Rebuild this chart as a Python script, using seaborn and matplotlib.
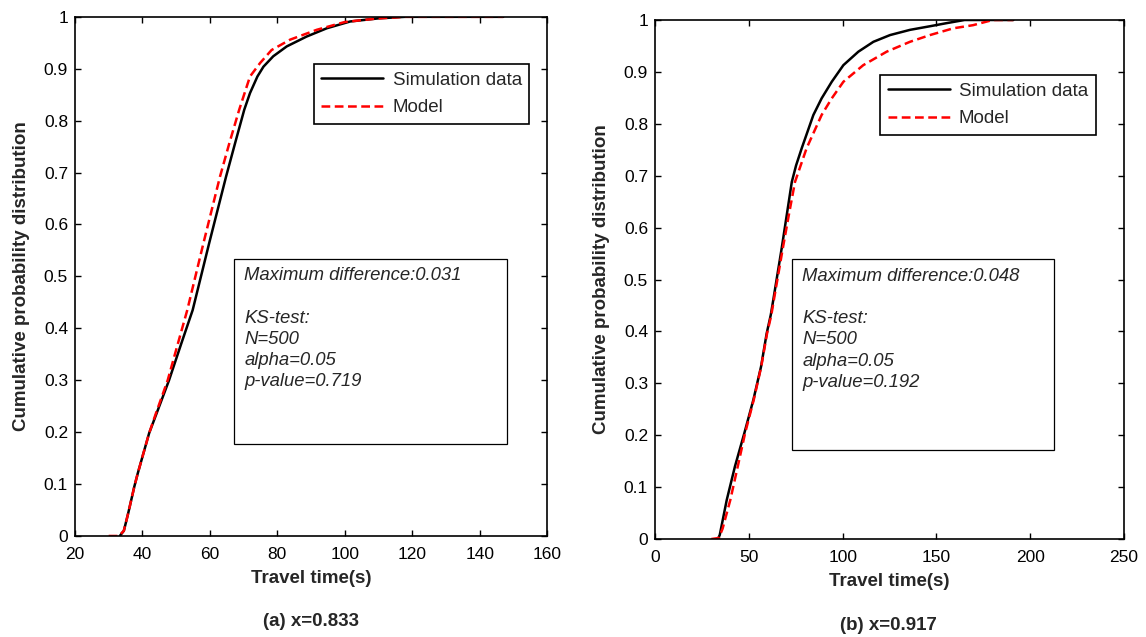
import numpy as np
import pandas as pd
import seaborn as sns
import matplotlib
import matplotlib.pyplot as plt
from matplotlib.patches import Rectangle
matplotlib.use('Agg')

# (a) x=0.833 -- travel time (s) vs cumulative probability
sim_a_t = [33.3, 34.5, 35.8, 37.6, 38.6, 40.6, 42, 44.2, 47.9, 51.5, 54.9, 59.8, 64.8, 67.5, 70.2, 71.9, 74.1, 75.9, 78.8, 82.8, 88.7, 94.7, 101.6, 110, 118, 147]
sim_a_p = [0, 0.01, 0.044, 0.095, 0.12, 0.166, 0.198, 0.236, 0.3, 0.37, 0.435, 0.564, 0.692, 0.757, 0.821, 0.853, 0.885, 0.904, 0.924, 0.943, 0.962, 0.978, 0.991, 0.997, 1.0, 1.0]
mod_a_t = [30, 33, 34.5, 35.8, 37.6, 38.6, 40.6, 42, 44, 47.5, 50.5, 53.3, 58.1, 63, 65.8, 68.7, 71.9, 74.9, 78.3, 83.8, 91.7, 100, 110, 118, 147]
mod_a_p = [0, 0, 0.01, 0.044, 0.095, 0.12, 0.166, 0.198, 0.236, 0.3, 0.37, 0.435, 0.564, 0.692, 0.757, 0.821, 0.885, 0.911, 0.936, 0.956, 0.975, 0.99, 0.997, 1.0, 1.0]

# (b) x=0.917
sim_b_t = [33.5, 34.5, 38.2, 42.6, 47.6, 52.4, 56.5, 59.5, 61.7, 63, 67.5, 70.2, 72.9, 75.2, 78.2, 84.4, 88.8, 94.2, 100.4, 108.4, 116.4, 125.3, 135.9, 146.6, 155.5, 165, 191]
sim_b_p = [0, 0.008, 0.075, 0.14, 0.204, 0.268, 0.332, 0.396, 0.432, 0.46, 0.56, 0.624, 0.688, 0.72, 0.753, 0.817, 0.849, 0.881, 0.913, 0.939, 0.958, 0.971, 0.981, 0.988, 0.994, 1.0, 1.0]
mod_b_t = [30, 34, 36, 40.1, 44.1, 48, 52.6, 56.6, 59.7, 62, 63.3, 68.1, 71.3, 74.6, 80.8, 88.8, 94.2, 100.4, 111, 123.5, 135.9, 146.6, 159, 169.5, 180, 191]
mod_b_p = [0, 0.002, 0.02, 0.075, 0.14, 0.204, 0.268, 0.332, 0.396, 0.432, 0.46, 0.56, 0.624, 0.688, 0.753, 0.817, 0.849, 0.881, 0.913, 0.939, 0.958, 0.971, 0.984, 0.99, 1.0, 1.0]

panels = [
    dict(sim=(sim_a_t, sim_a_p), mod=(mod_a_t, mod_a_p), xlim=(20, 160), xticks=range(20, 161, 20),
         maxdiff='0.031', pval='0.719', caption='(a) x=0.833'),
    dict(sim=(sim_b_t, sim_b_p), mod=(mod_b_t, mod_b_p), xlim=(0, 250), xticks=range(0, 251, 50),
         maxdiff='0.048', pval='0.192', caption='(b) x=0.917'),
]

sns.set_style('ticks')
plt.rcParams['font.family'] = ['Liberation Sans', 'DejaVu Sans']

fig = plt.figure(figsize=(11.46, 6.37), dpi=100)
axes_pos = [[0.0654, 0.1586, 0.412, 0.815], [0.5716, 0.1538, 0.4092, 0.8148]]
legend_pos = [(0.506, 0.909), (0.48, 0.894)]
box_pos = [(0.337, 0.177, 0.578, 0.357), (0.292, 0.171, 0.559, 0.368)]
caption_pos = [(0.271, 1 - 621 / 637), (0.775, 1 - 625 / 637)]

for i, p in enumerate(panels):
    ax = fig.add_axes(axes_pos[i])
    sim = pd.DataFrame({'t': p['sim'][0], 'p': p['sim'][1]})
    mod = pd.DataFrame({'t': p['mod'][0], 'p': p['mod'][1]})
    sns.lineplot(data=sim, x='t', y='p', ax=ax, color='black', lw=1.8,
                 sort=False, estimator=None, label='Simulation data')
    sns.lineplot(data=mod, x='t', y='p', ax=ax, color='red', lw=1.8,
                 sort=False, estimator=None, label='Model', linestyle=(0, (3.5, 1.8)))
    ax.set_xlim(*p['xlim'])
    ax.set_ylim(0, 1)
    ax.set_xticks(list(p['xticks']))
    yt = np.round(np.arange(0, 1.01, 0.1), 1)
    ax.set_yticks(yt)
    ax.set_yticklabels([f'{v:g}' for v in yt])
    ax.tick_params(direction='in', top=True, right=True, length=4, width=1,
                   labelsize=12.5, colors='black', pad=5)
    ax.tick_params(axis='x', pad=8)
    for s in ax.spines.values():
        s.set_visible(True)
        s.set_linewidth(1.2)
        s.set_color('black')
    ax.set_xlabel('Travel time(s)', fontsize=13.5, fontweight='bold', labelpad=6)
    ax.set_ylabel('Cumulative probability distribution', fontsize=13.5, fontweight='bold', labelpad=10)

    leg = ax.legend(loc='upper left', bbox_to_anchor=legend_pos[i], fontsize=13.5,
                    frameon=True, fancybox=False, edgecolor='black', framealpha=1,
                    handlelength=3.3, borderpad=0.4, labelspacing=0.57, borderaxespad=0,
                    handletextpad=0.5)
    leg.get_frame().set_linewidth(1.2)

    bx, by, bw, bh = box_pos[i]
    ax.add_patch(Rectangle((bx, by), bw, bh, transform=ax.transAxes, fill=False,
                           edgecolor='black', lw=0.9))
    txt = (f"Maximum difference:{p['maxdiff']}\n\nKS-test:\nN=500\nalpha=0.05\n"
           f"p-value={p['pval']}")
    ax.text(bx + 0.022, by + bh - 0.016, txt, transform=ax.transAxes, va='top', ha='left',
            fontsize=13.3, style='italic', linespacing=1.33)

    fig.text(caption_pos[i][0], caption_pos[i][1], p['caption'], ha='center', va='center',
             fontsize=13.5, fontweight='bold')

plt.savefig('out.png', dpi=100)
